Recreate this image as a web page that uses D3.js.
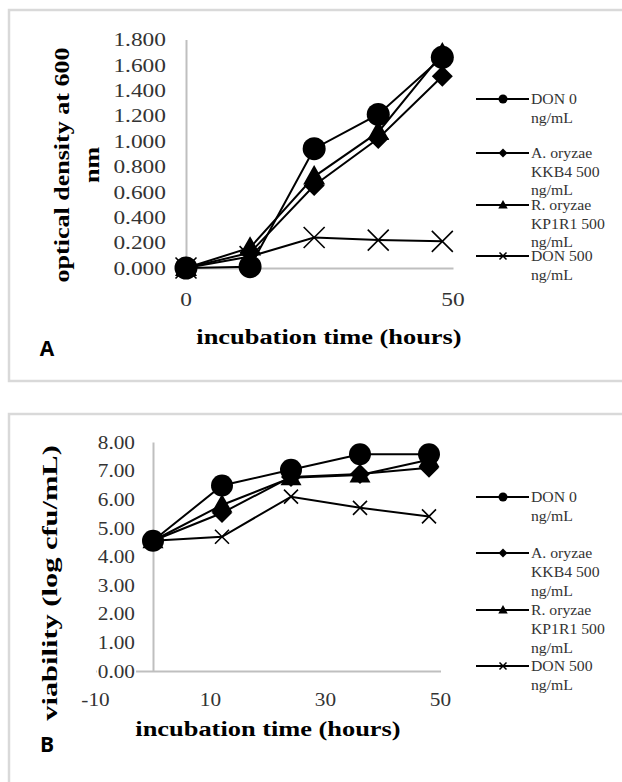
<!DOCTYPE html>
<html>
<head>
<meta charset="utf-8">
<script src="https://cdn.jsdelivr.net/npm/d3@7"></script>
<style>body{margin:0;background:#fff;}</style>
</head>
<body>
<div id="main"></div>
<script>
// sampling times (hours)
var hours = [0, 12, 24, 36, 48];
var seriesLabels = [["DON 0", "ng/mL"], ["A. oryzae", "KKB4 500", "ng/mL"], ["R. oryzae", "KP1R1 500", "ng/mL"], ["DON 500", "ng/mL"]];
var markerTypes = ["circle", "diamond", "triangle", "cross"];

// panel A: optical density at 600 nm
var odDon0 = [0.00, 0.01, 0.94, 1.21, 1.66];
var odAoryzae = [0.00, 0.12, 0.65, 1.02, 1.51];
var odRoryzae = [0.00, 0.16, 0.72, 1.07, 1.69];
var odDon500 = [0.00, 0.09, 0.24, 0.22, 0.21];
var odYTicks = [0, 0.2, 0.4, 0.6, 0.8, 1.0, 1.2, 1.4, 1.6, 1.8];
var odXTicks = [0, 50];

// panel B: viability (log cfu/mL)
var cfuDon0 = [4.55, 6.48, 7.03, 7.57, 7.57];
var cfuAoryzae = [4.55, 5.52, 6.78, 6.88, 7.10];
var cfuRoryzae = [4.55, 5.80, 6.75, 6.85, 7.38];
var cfuDon500 = [4.55, 4.69, 6.09, 5.70, 5.40];
var cfuYTicks = [0, 1, 2, 3, 4, 5, 6, 7, 8];
var cfuXTicks = [-10, 10, 30, 50];

var W = 622, H = 782;
var svg = d3.select("#main").append("svg").attr("width", W).attr("height", H);
var serif = "Liberation Serif, Tinos, Times New Roman, Times, DejaVu Serif, serif";

function txt(g, s, x, y, size, o) {
  o = o || {};
  return g.append("text")
    .attr("transform", "translate(" + x + "," + y + ") rotate(" + (o.rot || 0) + ") scale(" + (o.sx || 1) + ",1)")
    .attr("text-anchor", o.anchor || "middle")
    .attr("dy", "0.35em")
    .attr("font-family", o.family || serif)
    .attr("font-size", size)
    .attr("font-weight", o.bold ? "bold" : "normal")
    .attr("fill", o.fill || "#000")
    .text(s);
}

function markerPath(type, r) {
  if (type == "circle") return d3.symbol(d3.symbolCircle, Math.PI * r * r)();
  if (type == "diamond") return "M0," + (-r) + "L" + r + ",0L0," + r + "L" + (-r) + ",0Z";
  if (type == "triangle") return "M0," + (-r * 1.1) + "L" + (r * 1.05) + "," + (r * 0.75) + "L" + (-r * 1.05) + "," + (r * 0.75) + "Z";
  return "M" + (-r) + "," + (-r) + "L" + r + "," + r + "M" + (-r) + "," + r + "L" + r + "," + (-r);
}

function drawMarker(g, type, x, y, r, crossWidth) {
  var p = g.append("path").attr("d", markerPath(type, r))
    .attr("transform", "translate(" + x + "," + y + ")");
  if (type == "cross") p.attr("fill", "none").attr("stroke", "#000").attr("stroke-width", crossWidth);
  else p.attr("fill", "#000");
}

function drawPanel(cfg) {
  var g = svg.append("g");
  g.append("rect").attr("x", cfg.box[0]).attr("y", cfg.box[1]).attr("width", cfg.box[2]).attr("height", cfg.box[3])
    .attr("fill", "#fff").attr("stroke", "#d9d9d9").attr("stroke-width", 2.5);

  var x = d3.scaleLinear().domain(cfg.xDomain).range(cfg.xRange);
  var y = d3.scaleLinear().domain(cfg.yDomain).range(cfg.yRange);

  // axes lines (gray, no ticks)
  var xAxis = g.append("g").attr("transform", "translate(0," + y(0) + ")")
    .call(d3.axisBottom(x).tickValues([]).tickSizeOuter(0));
  xAxis.select(".domain").attr("stroke", "#bfbfbf").attr("stroke-width", 2);
  var yAxis = g.append("g").attr("transform", "translate(" + x(0) + ",0)")
    .call(d3.axisLeft(y).tickValues([]).tickSizeOuter(0));
  yAxis.select(".domain").attr("stroke", "#bfbfbf").attr("stroke-width", 2);

  // tick labels
  cfg.yTicks.forEach(function (v) {
    var t = txt(g, cfg.yFmt(v), cfg.yLabelX, y(v), cfg.tickSize, {anchor: "end", sx: cfg.tickSx, fill: "#333"});
    if (cfg.labelBg) {
      var bb = t.node().getBBox();
      g.insert("rect", function () { return t.node(); })
        .attr("x", cfg.yLabelX - bb.width * cfg.tickSx - 1).attr("y", y(v) - bb.height / 2)
        .attr("width", bb.width * cfg.tickSx + 2).attr("height", bb.height).attr("fill", "#fff");
    }
  });
  cfg.xTicks.forEach(function (v) {
    txt(g, String(v), x(v), cfg.xLabelY, cfg.tickSize, {sx: cfg.tickSx, fill: "#333"});
  });

  // axis titles
  txt(g, "incubation time (hours)", cfg.xTitle[0], cfg.xTitle[1], 22, {bold: true, sx: 1.2});
  cfg.yTitle.forEach(function (t) {
    txt(g, t.s, t.x, t.y, t.size, {bold: true, rot: -90, sx: t.sx});
  });

  // series
  var line = d3.line().x(function (d) { return x(d[0]); }).y(function (d) { return y(d[1]); });
  cfg.series.forEach(function (vals, i) {
    var pts = hours.map(function (h, j) { return [h, vals[j]]; });
    g.append("path").datum(pts).attr("d", line).attr("fill", "none").attr("stroke", "#000").attr("stroke-width", 2);
    pts.forEach(function (p) {
      drawMarker(g, markerTypes[i], x(p[0]), y(p[1]), cfg.markerR[i], cfg.crossWidth);
    });
  });

  // legend
  seriesLabels.forEach(function (lines, i) {
    var ly = cfg.legendY[i];
    g.append("line").attr("x1", 476).attr("x2", 529).attr("y1", ly).attr("y2", ly)
      .attr("stroke", "#000").attr("stroke-width", 2);
    drawMarker(g, markerTypes[i], 503, ly, markerTypes[i] == "cross" ? 3.5 : 4.5, 1.5);
    lines.forEach(function (s, k) {
      txt(g, s, 531, ly + k * cfg.legendStep, 15, {anchor: "start", sx: 1.05, fill: "#333"});
    });
  });

  // panel letter
  txt(g, cfg.letter, 47, cfg.letterY, 21, {bold: true, family: "Open Sans, Noto Sans, sans-serif"});
}

drawPanel({
  box: [9, 10, 620, 371],
  xDomain: [0, 50], xRange: [186, 453],
  yDomain: [0, 1.8], yRange: [268, 39.5],
  yTicks: odYTicks, xTicks: odXTicks,
  yFmt: d3.format(".3f"), yLabelX: 166, xLabelY: 299,
  tickSize: 19.5, tickSx: 1.2, labelBg: false,
  xTitle: [329, 336],
  yTitle: [{s: "optical density at 600", x: 62, y: 165, size: 21, sx: 1.24},
           {s: "nm", x: 92, y: 165, size: 21, sx: 1.24}],
  series: [odDon0, odAoryzae, odRoryzae, odDon500],
  markerR: [11.5, 10.5, 10.5, 10.5], crossWidth: 1.6,
  legendY: [99, 153, 205, 256], legendStep: 18.5,
  letter: "A", letterY: 349
});

drawPanel({
  box: [9, 414, 620, 380],
  xDomain: [-10, 50], xRange: [95.5, 440.5],
  yDomain: [0, 8], yRange: [671, 442],
  yTicks: cfuYTicks, xTicks: cfuXTicks,
  yFmt: d3.format(".2f"), yLabelX: 135, xLabelY: 699,
  tickSize: 19, tickSx: 1.12, labelBg: true,
  xTitle: [268, 728],
  yTitle: [{s: "viability (log cfu/mL)", x: 50, y: 583, size: 21, sx: 1.45}],
  series: [cfuDon0, cfuAoryzae, cfuRoryzae, cfuDon500],
  markerR: [11, 10, 10, 7], crossWidth: 1.6,
  legendY: [497, 553, 610, 666], legendStep: 19,
  letter: "B", letterY: 745
});
</script>
</body>
</html>
